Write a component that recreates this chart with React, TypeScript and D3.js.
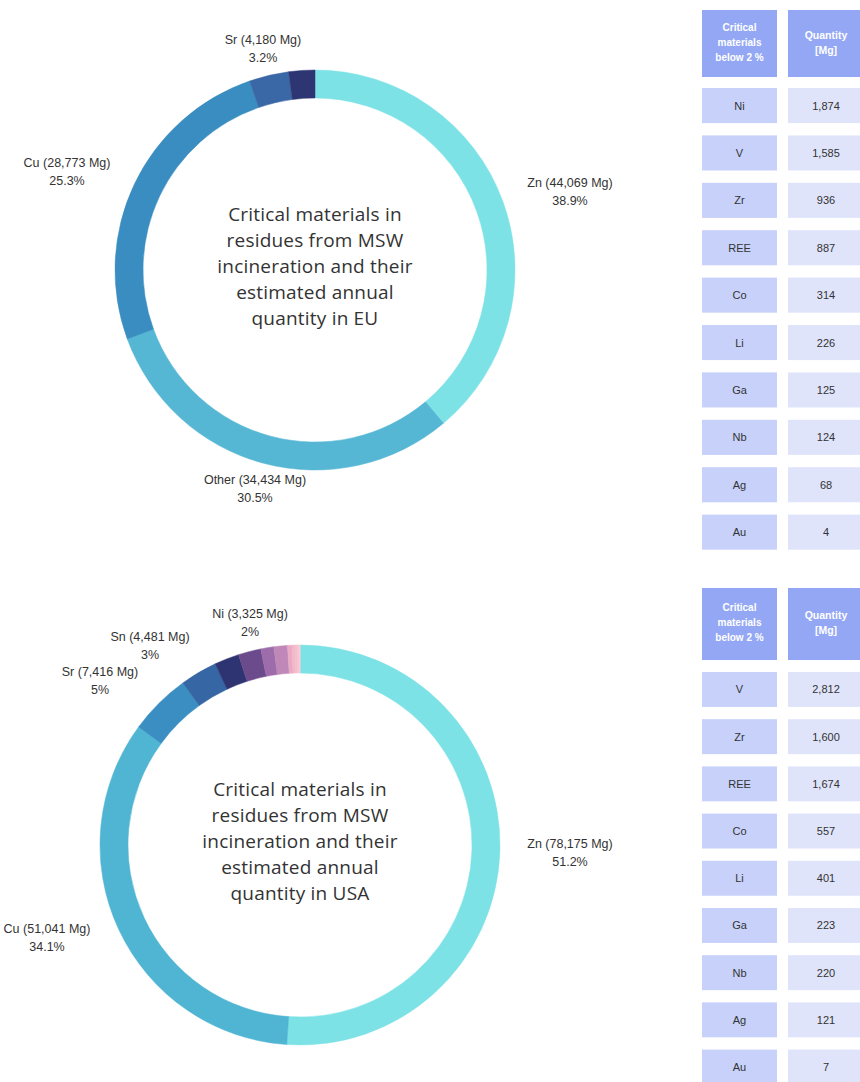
import React from "react";
import * as d3 from "d3";

// ---------- DATA ----------
const euNames = ["Zn", "Other", "Cu", "Sr", "Rest"];
const euValues = [38.9, 30.5, 25.3, 3.2, 2.1];
const euQuantities = [44069, 34434, 28773, 4180, 0];
const euColors = ["#7de2e6", "#55b7d4", "#3a8dc0", "#3a67a5", "#2d3572"];
const euLabelled = ["Zn", "Other", "Cu", "Sr"];
const euTitle = ["Critical materials in", "residues from MSW", "incineration and their", "estimated annual", "quantity in EU"];

const usNames = ["Zn", "Cu", "Sr", "Sn", "Ni", "V", "Zr", "REE", "Co", "Li", "Ga", "Nb", "Ag", "Au"];
const usValues = [51.2, 34.1, 5, 3, 2, 1.84, 1.05, 1.1, 0.36, 0.26, 0.15, 0.14, 0.08, 0.01];
const usQuantities = [78175, 51041, 7416, 4481, 3325, 2812, 1600, 1674, 557, 401, 223, 220, 121, 7];
const usColors = ["#7de2e6", "#4fb5d3", "#3b8ec2", "#3666a3", "#2e3471", "#6b4b8b", "#9d6dab", "#c088b8", "#eaaac4", "#f2b8c9", "#f4bdcc", "#f6c2cf", "#f8c8d3", "#fad0d8"];
const usLabelled = ["Zn", "Cu", "Sr", "Sn", "Ni"];
const usTitle = ["Critical materials in", "residues from MSW", "incineration and their", "estimated annual", "quantity in USA"];

const tableHeader1 = ["Critical", "materials", "below 2 %"];
const tableHeader2 = ["Quantity", "[Mg]"];
const euTableNames = ["Ni", "V", "Zr", "REE", "Co", "Li", "Ga", "Nb", "Ag", "Au"];
const euTableQty = [1874, 1585, 936, 887, 314, 226, 125, 124, 68, 4];
const usTableNames = ["V", "Zr", "REE", "Co", "Li", "Ga", "Nb", "Ag", "Au"];
const usTableQty = [2812, 1600, 1674, 557, 401, 223, 220, 121, 7];

// ---------- LAYOUT ----------
const euLabelPos: Record<string, [number, number]> = {
  Zn: [570, 183], Other: [255, 480], Cu: [67, 163], Sr: [263, 40],
};
const usLabelPos: Record<string, [number, number]> = {
  Zn: [570, 844], Cu: [47, 929], Sr: [100, 672], Sn: [150, 637], Ni: [250, 614],
};

const fmt = d3.format(",");

type DonutProps = {
  cx: number; cy: number; names: string[]; values: number[]; qty: number[];
  colors: string[]; labelled: string[]; labelPos: Record<string, [number, number]>; title: string[];
};

function Donut({ cx, cy, names, values, qty, colors, labelled, labelPos, title }: DonutProps) {
  const idx = names.map((_, i) => i);
  const pie = d3.pie<number>().sort(null).value((i) => values[i]).startAngle(0).endAngle(2 * Math.PI);
  const arc = d3.arc<d3.PieArcDatum<number>>().innerRadius(172).outerRadius(200);
  const arcs = pie(idx);
  return (
    <g>
      <g transform={`translate(${cx},${cy})`}>
        {arcs.map((a) => (
          <path key={names[a.data]} d={arc(a) as string} fill={colors[a.data]} stroke={colors[a.data]} strokeWidth={0.5} />
        ))}
      </g>
      {title.map((t, i) => (
        <text key={i} x={cx} y={cy - 4 + (i - 2) * 26} textAnchor="middle" dominantBaseline="central"
          fontFamily="'Open Sans', sans-serif" fontSize={19} fill="#333" letterSpacing={0.2}>{t}</text>
      ))}
      {labelled.map((n) => {
        const i = names.indexOf(n);
        const [x, y] = labelPos[n];
        return (
          <g key={n} fontFamily="'Liberation Sans', Arial, sans-serif" fontSize={12.5} fill="#333" textAnchor="middle">
            <text x={x} y={y} dominantBaseline="central">{`${n} (${fmt(qty[i])} Mg)`}</text>
            <text x={x} y={y + 18} dominantBaseline="central">{`${values[i]}%`}</text>
          </g>
        );
      })}
    </g>
  );
}

type TableProps = { headerTop: number; headerBottom: number; rowStart: number; step: number; names: string[]; qty: number[] };

function Table({ headerTop, headerBottom, rowStart, step, names, qty }: TableProps) {
  const c1x = 702, c1w = 75, c2x = 788, c2w = 76;
  const range0 = rowStart - step * 0.13;
  const y = d3.scaleBand<string>().domain(names).range([range0, range0 + step * names.length]).paddingInner(0.26).paddingOuter(0.13);
  const hMid = (headerTop + headerBottom) / 2 - 1.5;
  return (
    <g fontFamily="'Liberation Sans', Arial, sans-serif">
      <rect x={c1x} y={headerTop} width={c1w} height={headerBottom - headerTop} fill="#93a7f4" />
      <rect x={c2x} y={headerTop} width={c2w} height={headerBottom - headerTop} fill="#93a7f4" />
      {tableHeader1.map((t, i) => (
        <text key={t} x={c1x + c1w / 2} y={hMid + (i - 1) * 15} textAnchor="middle" dominantBaseline="central" fontSize={10} fontWeight="bold" fill="#fff">{t}</text>
      ))}
      {tableHeader2.map((t, i) => (
        <text key={t} x={c2x + c2w / 2} y={hMid + (i - 0.5) * 15} textAnchor="middle" dominantBaseline="central" fontSize={10.5} fontWeight="bold" fill="#fff">{t}</text>
      ))}
      {names.map((n, i) => (
        <g key={n}>
          <rect x={c1x} y={y(n)} width={c1w} height={y.bandwidth()} fill="#c7d1fa" />
          <rect x={c2x} y={y(n)} width={c2w} height={y.bandwidth()} fill="#dfe4fb" />
          <text x={c1x + c1w / 2} y={(y(n) as number) + y.bandwidth() / 2} textAnchor="middle" dominantBaseline="central" fontSize={11} fill="#333">{n}</text>
          <text x={c2x + c2w / 2} y={(y(n) as number) + y.bandwidth() / 2} textAnchor="middle" dominantBaseline="central" fontSize={11} fill="#333">{fmt(qty[i])}</text>
        </g>
      ))}
    </g>
  );
}

export default function App() {
  return (
    <svg width={860} height={1082} style={{ position: "absolute", left: 0, top: 0, background: "#fff" }}>
      <rect width={860} height={1082} fill="#fff" />
      <Donut cx={315} cy={270} names={euNames} values={euValues} qty={euQuantities} colors={euColors}
        labelled={euLabelled} labelPos={euLabelPos} title={euTitle} />
      <Donut cx={300} cy={845} names={usNames} values={usValues} qty={usQuantities} colors={usColors}
        labelled={usLabelled} labelPos={usLabelPos} title={usTitle} />
      <Table headerTop={10} headerBottom={77} rowStart={88} step={47.4} names={euTableNames} qty={euTableQty} />
      <Table headerTop={588} headerBottom={660} rowStart={672} step={47.2} names={usTableNames} qty={usTableQty} />
    </svg>
  );
}
